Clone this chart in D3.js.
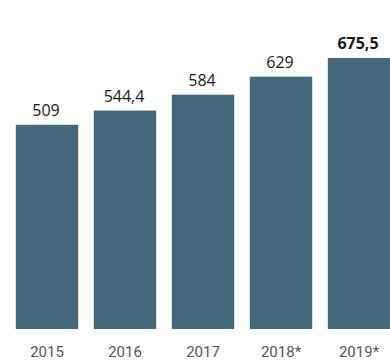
<!DOCTYPE html>
<html>
<head>
<meta charset="utf-8">
<script src="https://cdn.jsdelivr.net/npm/d3@7"></script>
<style>
  body { margin: 0; background: #fff; }
  svg { display: block; }
</style>
</head>
<body>
<div id="chart"></div>
<script>
const years = ["2015", "2016", "2017", "2018*", "2019*"];
const values = [509, 544.4, 584, 629, 675.5];
const valueLabels = ["509", "544,4", "584", "629", "675,5"];

const width = 390, height = 362;
const svg = d3.select("#chart").append("svg")
  .attr("width", width)
  .attr("height", height);

// skala x - słupki co 78px
const x = d3.scaleBand()
  .domain(years)
  .range([8, 398])
  .paddingInner(0.2)
  .paddingOuter(0.1);

const y = d3.scaleLinear()
  .domain([0, 675.5])
  .range([329, 58]);

svg.selectAll(".bar")
  .data(values)
  .enter()
  .append("rect")
  .classed("bar", true)
  .attr("x", (d, i) => x(years[i]))
  .attr("y", d => y(d))
  .attr("width", x.bandwidth())
  .attr("height", d => y(0) - y(d))
  .style("fill", "#45677a");

// etykiety wartości
svg.selectAll(".val")
  .data(values)
  .enter()
  .append("text")
  .attr("x", (d, i) => x(years[i]) + x.bandwidth() / 2 - 1)
  .attr("y", d => y(d) - 9)
  .attr("text-anchor", "middle")
  .attr("font-family", "Open Sans, sans-serif")
  .attr("font-size", "16px")
  .attr("font-weight", (d, i) => i === values.length - 1 ? "bold" : "normal")
  .attr("fill", "#1a1a1a")
  .text((d, i) => valueLabels[i]);

// oś dolna
const axis = svg.append("g")
  .attr("transform", "translate(0," + 357 + ")")
  .call(d3.axisBottom(x).tickSize(0).tickPadding(0));
axis.select(".domain").remove();
axis.selectAll("text")
  .attr("dy", 0)
  .attr("font-family", "Liberation Sans Narrow, Roboto, sans-serif")
  .attr("font-size", "15px")
  .attr("fill", "#555");
</script>
</body>
</html>
